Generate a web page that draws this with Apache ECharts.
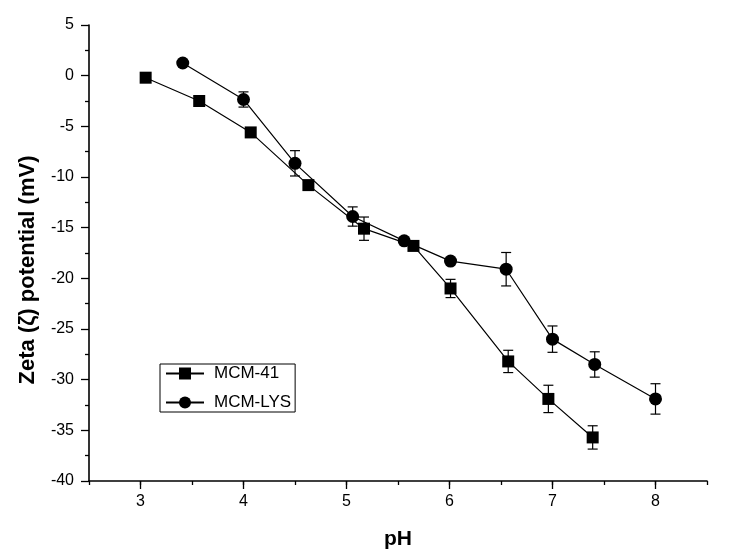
<!DOCTYPE html>
<html>
<head>
<meta charset="utf-8">
<script src="https://cdn.jsdelivr.net/npm/echarts@6/dist/echarts.min.js"></script>
<style>html,body{margin:0;padding:0;background:#fff;}#c{width:729px;height:557px;}</style>
</head>
<body>
<div id="c"></div>
<script>
const xTicks = [3, 4, 5, 6, 7, 8];
const yTicks = [5, 0, -5, -10, -15, -20, -25, -30, -35, -40];

const mcm41_pH   = [3.05, 3.57, 4.07, 4.63, 5.17, 5.65, 6.01, 6.57, 6.96, 7.39];
const mcm41_zeta = [-0.2, -2.5, -5.6, -10.8, -15.1, -16.8, -21.0, -28.2, -31.9, -35.7];
const mcm41_err  = [0, 0, 0, 0.3, 1.15, 0.45, 0.9, 1.1, 1.35, 1.15];

const lys_pH   = [3.41, 4.00, 4.50, 5.06, 5.56, 6.01, 6.55, 7.00, 7.41, 8.00];
const lys_zeta = [1.25, -2.35, -8.65, -13.9, -16.3, -18.3, -19.1, -26.0, -28.5, -31.9];
const lys_err  = [0, 0.75, 1.25, 0.95, 0, 0, 1.65, 1.3, 1.25, 1.5];

const FONT = '"Liberation Sans", Arial, sans-serif';
const Y_MIN = -40;

function pts(xs, ys) { return xs.map((x, i) => [x, ys[i]]); }
function errs(xs, ys, es) { return xs.map((x, i) => [x, ys[i] - es[i], ys[i] + es[i]]); }

function errRender(params, api) {
  const x = api.value(0);
  const lo = api.coord([x, api.value(1)]);
  const hi = api.coord([x, api.value(2)]);
  const w = 5;
  const st = { stroke: '#000', lineWidth: 1.2 };
  return {
    type: 'group',
    children: [
      { type: 'line', shape: { x1: lo[0], y1: lo[1], x2: hi[0], y2: hi[1] }, style: st },
      { type: 'line', shape: { x1: lo[0] - w, y1: lo[1], x2: lo[0] + w, y2: lo[1] }, style: st },
      { type: 'line', shape: { x1: hi[0] - w, y1: hi[1], x2: hi[0] + w, y2: hi[1] }, style: st }
    ]
  };
}

// longer tick marks at the labelled pH values
function majorTickRender(params, api) {
  const p = api.coord([api.value(0), Y_MIN]);
  return { type: 'line', shape: { x1: p[0], y1: p[1], x2: p[0], y2: p[1] + 8 }, style: { stroke: '#000', lineWidth: 1.3 } };
}

const chart = echarts.init(document.getElementById('c'), null, { renderer: 'canvas' });
chart.setOption({
  backgroundColor: '#fff',
  animation: false,
  grid: { left: 89, right: 22, top: 25, bottom: 76, containLabel: false },
  legend: {
    data: ['MCM-41', 'MCM-LYS'],
    orient: 'vertical',
    left: 160, top: 364,
    padding: [1, 4, 1, 5],
    itemWidth: 38, itemHeight: 15, itemGap: 12,
    borderColor: '#000', borderWidth: 1,
    textStyle: { fontFamily: FONT, fontSize: 17, color: '#000', padding: [0, 0, 0, 5] }
  },
  xAxis: {
    type: 'value', min: 2.5, max: 8.5, interval: 0.5,
    name: 'pH', nameLocation: 'middle', nameGap: 48,
    nameTextStyle: { fontFamily: FONT, fontSize: 21, fontWeight: 'bold', color: '#000' },
    axisLine: { onZero: false, lineStyle: { color: '#000', width: 1.6 } },
    axisTick: { show: true, inside: false, length: 4, lineStyle: { color: '#000', width: 1.3 } },
    axisLabel: {
      fontFamily: FONT, fontSize: 16, color: '#000', margin: 13,
      formatter: v => (xTicks.indexOf(v) >= 0 ? String(v) : '')
    },
    splitLine: { show: false }
  },
  yAxis: {
    type: 'value', min: Y_MIN, max: 5, interval: 5,
    name: 'Zeta (ζ) potential (mV)', nameLocation: 'middle', nameGap: 50,
    nameTextStyle: { fontFamily: FONT, fontSize: 22, fontWeight: 'bold', color: '#000', padding: [0, 34, 0, 0] },
    axisLine: { onZero: false, lineStyle: { color: '#000', width: 1.6 } },
    axisTick: { show: true, inside: false, length: 8, lineStyle: { color: '#000', width: 1.3 } },
    minorTick: { show: true, splitNumber: 2, length: 4, lineStyle: { color: '#000', width: 1.3 } },
    axisLabel: {
      fontFamily: FONT, fontSize: 16, color: '#000', margin: 15,
      formatter: v => (yTicks.indexOf(v) >= 0 ? String(v) : '')
    },
    splitLine: { show: false }
  },
  series: [
    { type: 'custom', name: 'xMajor', renderItem: majorTickRender, data: xTicks.map(v => [v]), clip: false, silent: true, z: 1, encode: { x: 0 } },
    { type: 'custom', name: 'err41', renderItem: errRender, data: errs(mcm41_pH, mcm41_zeta, mcm41_err), z: 1, encode: { x: 0, y: [1, 2] } },
    { type: 'custom', name: 'errLYS', renderItem: errRender, data: errs(lys_pH, lys_zeta, lys_err), z: 1, encode: { x: 0, y: [1, 2] } },
    {
      type: 'line', name: 'MCM-41', data: pts(mcm41_pH, mcm41_zeta),
      symbol: 'rect', symbolSize: 12, showAllSymbol: true, z: 3,
      lineStyle: { color: '#000', width: 1.2 }, itemStyle: { color: '#000' }
    },
    {
      type: 'line', name: 'MCM-LYS', data: pts(lys_pH, lys_zeta),
      symbol: 'circle', symbolSize: 13, showAllSymbol: true, z: 3,
      lineStyle: { color: '#000', width: 1.2 }, itemStyle: { color: '#000' }
    }
  ]
});
</script>
</body>
</html>
